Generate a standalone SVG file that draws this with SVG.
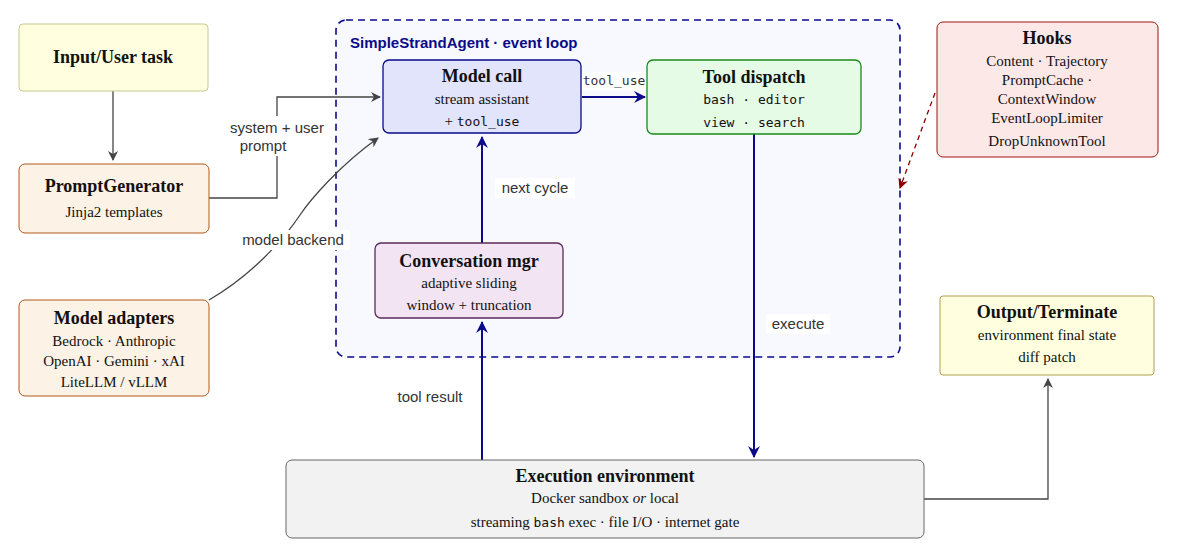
<svg xmlns="http://www.w3.org/2000/svg" width="1180" height="558" viewBox="0 0 1180 558">
<defs>
<style>
.t{font-family:"Liberation Serif",serif;font-size:15px;text-anchor:middle;fill:#111}
.b{font-weight:bold;font-size:18px}
.m{font-family:"DejaVu Sans Mono",monospace;font-size:13px}
.l{font-family:"Liberation Sans",sans-serif;font-size:15px;fill:#333;text-anchor:middle}
.g{stroke:#444;stroke-width:1.3;fill:none}
.n{stroke:#0a0a8a;stroke-width:2;fill:none}
</style>
<marker id="ag" markerWidth="10" markerHeight="10" refX="9" refY="5" orient="auto" markerUnits="userSpaceOnUse"><path d="M0,0 L10,5 L0,10 L3,5z" fill="#444"/></marker>
<marker id="an" markerWidth="12" markerHeight="12" refX="11" refY="6" orient="auto" markerUnits="userSpaceOnUse"><path d="M0,0 L12,6 L0,12 L4,6z" fill="#0a0a8a"/></marker>
<marker id="ar" markerWidth="10" markerHeight="10" refX="9" refY="5" orient="auto" markerUnits="userSpaceOnUse"><path d="M0,0 L10,5 L0,10 L3,5z" fill="#8b0000"/></marker>
</defs>
<rect width="1180" height="558" fill="#fff"/>
<g id="container"><rect x="336" y="20" width="564" height="337" rx="10" fill="#f8f8ff" stroke="#0a0a8a" stroke-width="1.6" stroke-dasharray="7,5"/>
<text x="350" y="48" style="font-family:'Liberation Sans',sans-serif;font-size:15px;font-weight:bold;fill:#0a0a8a">SimpleStrandAgent · event loop</text></g>
<g id="connectors">
<path class="g" d="M113,91 V160" marker-end="url(#ag)"/>
<path class="g" d="M209,198 H277 V97 H380" marker-end="url(#ag)"/>
<rect x="222" y="116" width="110" height="40" fill="#fff"/>
<text class="l" x="277" y="133">system + user</text><text class="l" x="263" y="151">prompt</text>
<path class="g" d="M209,300 C260,270 290,230 300,215 S340,165 378,138" marker-end="url(#ag)"/>
<rect x="236" y="230" width="114" height="20" fill="#fff"/>
<text class="l" x="293" y="245">model backend</text>
<path class="n" d="M582,97 H645" marker-end="url(#an)"/>
<rect x="581" y="72" width="66" height="18" fill="#fff"/>
<text class="m" x="614" y="85" text-anchor="middle" fill="#333">tool_use</text>
<path class="n" d="M754,134 V457" marker-end="url(#an)"/>
<rect x="766" y="314" width="64" height="20" fill="#fff"/>
<text class="l" x="798" y="329">execute</text>
<path class="n" d="M482,243 V137" marker-end="url(#an)"/>
<rect x="495" y="178" width="80" height="20" fill="#fff"/>
<text class="l" x="535" y="193">next cycle</text>
<path class="n" d="M482,460 V322" marker-end="url(#an)"/>
<text class="l" x="430" y="402">tool result</text>
<path class="g" d="M924,499 H1048 V379" marker-end="url(#ag)"/>
<path d="M935,93 L900,188" stroke="#8b0000" stroke-width="1.3" stroke-dasharray="5,4" fill="none" marker-end="url(#ar)"/>
</g>
<g id="input"><rect x="19" y="24" width="189" height="67" rx="4" fill="#ffffe0" stroke="#c8c890"/><text class="t b" x="113" y="63">Input/User task</text></g>
<g id="promptgen"><rect x="19" y="164" width="190" height="69" rx="6" fill="#fdf2e6" stroke="#b0581a"/><text class="t b" x="114" y="192">PromptGenerator</text><text class="t" x="114" y="217">Jinja2 templates</text></g>
<g id="adapters"><rect x="19" y="300" width="190" height="96" rx="6" fill="#fdf2e6" stroke="#b0581a"/><text class="t b" x="114" y="324">Model adapters</text><text class="t" x="114" y="346">Bedrock · Anthropic</text><text class="t" x="114" y="366">OpenAI · Gemini · xAI</text><text class="t" x="114" y="387">LiteLLM / vLLM</text></g>
<g id="modelcall"><rect x="383" y="60" width="198" height="73" rx="6" fill="#e2e4fb" stroke="#0a0a8a" stroke-width="1.3"/><text class="t b" x="482" y="82">Model call</text><text class="t" x="482" y="104">stream assistant</text><text class="t" x="482" y="126">+ <tspan class="m">tool_use</tspan></text></g>
<g id="tooldispatch"><rect x="647" y="60" width="214" height="74" rx="6" fill="#e5fbe5" stroke="#1a8a1a" stroke-width="1.3"/><text class="t b" x="754" y="83">Tool dispatch</text><text class="t m" x="754" y="104">bash · editor</text><text class="t m" x="754" y="127">view · search</text></g>
<g id="convmgr"><rect x="375" y="243" width="188" height="75" rx="6" fill="#f3e4f3" stroke="#5a2a5a" stroke-width="1.3"/><text class="t b" x="469" y="267">Conversation mgr</text><text class="t" x="469" y="288">adaptive sliding</text><text class="t" x="469" y="310">window + truncation</text></g>
<g id="hooks"><rect x="937" y="22" width="221" height="135" rx="6" fill="#fde8e8" stroke="#a01010"/><text class="t b" x="1047" y="44">Hooks</text><text class="t" x="1047" y="66">Content · Trajectory</text><text class="t" x="1047" y="85">PromptCache ·</text><text class="t" x="1047" y="104">ContextWindow</text><text class="t" x="1047" y="123">EventLoopLimiter</text><text class="t" x="1047" y="146">DropUnknownTool</text></g>
<g id="output"><rect x="940" y="296" width="214" height="79" rx="3" fill="#ffffe0" stroke="#b0a050"/><text class="t b" x="1047" y="318">Output/Terminate</text><text class="t" x="1047" y="340">environment final state</text><text class="t" x="1047" y="362">diff patch</text></g>
<g id="exec"><rect x="286" y="460" width="638" height="78" rx="6" fill="#f2f2f2" stroke="#666"/><text class="t b" x="605" y="482">Execution environment</text><text class="t" x="605" y="503">Docker sandbox <tspan font-style="italic">or</tspan> local</text><text class="t" x="605" y="527">streaming <tspan class="m">bash</tspan> exec · file I/O · internet gate</text></g>
</svg>
